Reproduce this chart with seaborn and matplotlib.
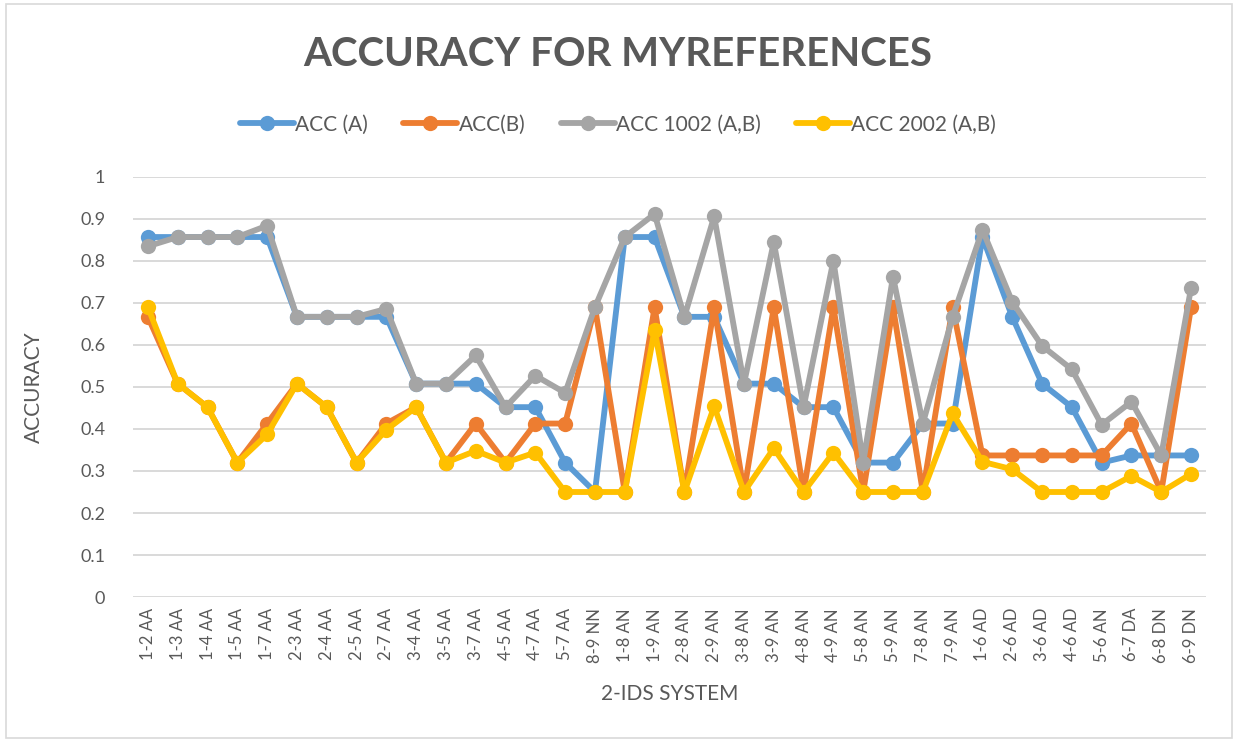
import matplotlib
matplotlib.use("Agg")
import matplotlib.pyplot as plt
from matplotlib.patches import Rectangle
import numpy as np
import pandas as pd
import seaborn as sns

systems = ["1-2 AA", "1-3 AA", "1-4 AA", "1-5 AA", "1-7 AA", "2-3 AA", "2-4 AA",
           "2-5 AA", "2-7 AA", "3-4 AA", "3-5 AA", "3-7 AA", "4-5 AA", "4-7 AA",
           "5-7 AA", "8-9 NN", "1-8 AN", "1-9 AN", "2-8 AN", "2-9 AN", "3-8 AN",
           "3-9 AN", "4-8 AN", "4-9 AN", "5-8 AN", "5-9 AN", "7-8 AN", "7-9 AN",
           "1-6 AD", "2-6 AD", "3-6 AD", "4-6 AD", "5-6 AN", "6-7 DA", "6-8 DN",
           "6-9 DN"]

acc_a = [0.857, 0.857, 0.857, 0.857, 0.857, 0.667, 0.667, 0.667, 0.667, 0.508,
         0.508, 0.508, 0.452, 0.452, 0.32, 0.25, 0.857, 0.857, 0.667, 0.667,
         0.508, 0.508, 0.452, 0.452, 0.32, 0.32, 0.413, 0.413, 0.857, 0.667,
         0.508, 0.452, 0.32, 0.337, 0.337, 0.337]

acc_b = [0.667, 0.508, 0.452, 0.32, 0.413, 0.508, 0.452, 0.32, 0.413, 0.452,
         0.32, 0.413, 0.32, 0.413, 0.413, 0.69, 0.25, 0.69, 0.25, 0.69,
         0.25, 0.69, 0.25, 0.69, 0.25, 0.69, 0.25, 0.69, 0.337, 0.337,
         0.337, 0.337, 0.337, 0.413, 0.25, 0.69]

acc_1002 = [0.835, 0.857, 0.857, 0.857, 0.884, 0.667, 0.667, 0.667, 0.686, 0.508,
            0.508, 0.575, 0.452, 0.527, 0.486, 0.69, 0.857, 0.912, 0.667, 0.906,
            0.508, 0.845, 0.452, 0.801, 0.32, 0.763, 0.413, 0.667, 0.874, 0.703,
            0.598, 0.542, 0.41, 0.465, 0.337, 0.736]

acc_2002 = [0.69, 0.508, 0.452, 0.32, 0.387, 0.508, 0.452, 0.32, 0.398, 0.452,
            0.32, 0.348, 0.32, 0.344, 0.25, 0.25, 0.25, 0.636, 0.25, 0.454,
            0.25, 0.354, 0.25, 0.344, 0.25, 0.25, 0.25, 0.437, 0.322, 0.304,
            0.25, 0.25, 0.25, 0.288, 0.25, 0.293]

series_names = ["ACC (A)", "ACC(B)", "ACC 1002 (A,B)", "ACC 2002 (A,B)"]
series_colors = ["#5B9BD5", "#ED7D31", "#A5A5A5", "#FFC000"]

frames = []
for name, vals in zip(series_names, [acc_a, acc_b, acc_1002, acc_2002]):
    frames.append(pd.DataFrame({"system": systems, "acc": vals, "series": name}))
df = pd.concat(frames, ignore_index=True)

sns.set_style("white")
plt.rcParams["font.family"] = ["Lato", "DejaVu Sans"]
text_col = "#595959"

fig = plt.figure(figsize=(12.36, 7.42), dpi=100)
ax = fig.add_axes([0.1076, 0.1954, 0.8681, 0.5661])

sns.lineplot(data=df, x="system", y="acc", hue="series", palette=series_colors,
             hue_order=series_names, sort=False, marker="o", markersize=11,
             markeredgewidth=0, linewidth=4.2, ax=ax, legend=True)

ax.set_ylim(0, 1)
ax.set_xlim(-0.5, len(systems) - 0.5)
ax.set_yticks(np.arange(0, 1.01, 0.1))
ax.set_yticklabels(["0", "0.1", "0.2", "0.3", "0.4", "0.5", "0.6", "0.7", "0.8", "0.9", "1"])
ax.yaxis.grid(True, color="#D9D9D9", linewidth=1.4)
ax.set_axisbelow(True)
for s in ax.spines.values():
    s.set_visible(False)
ax.tick_params(axis="x", rotation=90, labelsize=12, colors=text_col, length=0, pad=8)
ax.tick_params(axis="y", labelsize=13, colors=text_col, length=0, pad=20)

ax.set_xlabel("2-IDS SYSTEM", fontsize=15, color=text_col, labelpad=15)
ax.set_ylabel("ACCURACY", fontsize=15, color=text_col, labelpad=26)

handles, labels = ax.get_legend_handles_labels()
ax.legend_.remove()
fig.legend(handles, labels, loc="center", bbox_to_anchor=(0.5, 0.832), ncol=4,
           frameon=False, fontsize=15, handlelength=2.6, handletextpad=0.05,
           columnspacing=1.7, labelcolor=text_col)

fig.suptitle("ACCURACY FOR MYREFERENCES", fontsize=29, fontweight="bold",
             color=text_col, y=0.952)

fig.patches.append(Rectangle((0.005, 0.005), 0.992, 0.99, transform=fig.transFigure,
                             fill=False, edgecolor="#D9D9D9", linewidth=1.2))

fig.savefig("out.png", dpi=100)
